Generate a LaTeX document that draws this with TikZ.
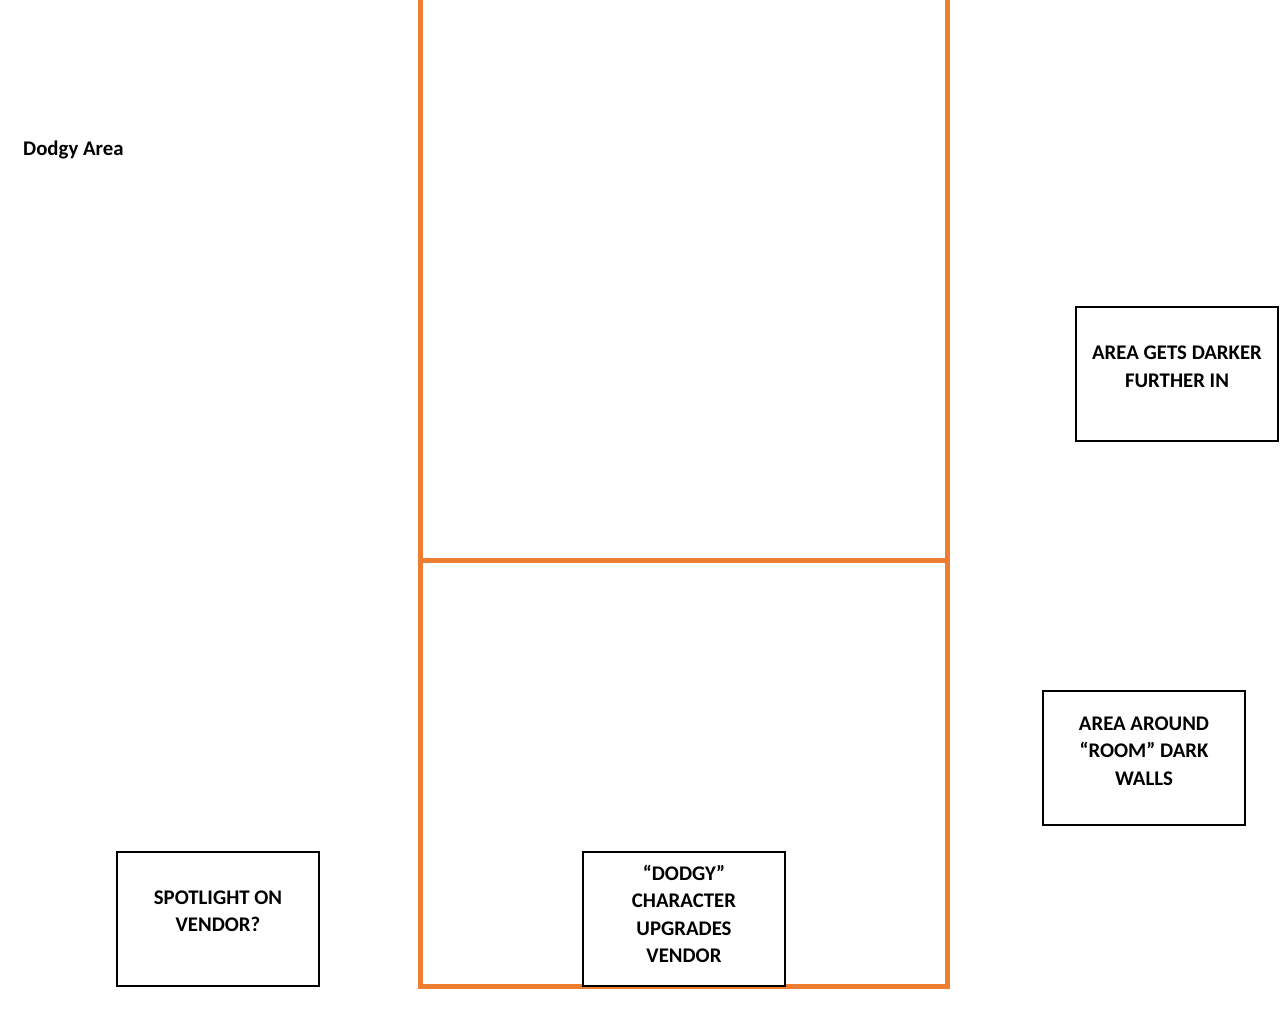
\documentclass[tikz,border=0pt]{standalone}
\usepackage{fontspec}
\setmainfont{Carlito}
\definecolor{wallorange}{HTML}{ED7D31}
\begin{document}
\begin{tikzpicture}[x=1pt,y=-1pt,
  note/.style={draw=black, line width=2pt, fill=white, minimum width=202pt,
    minimum height=134pt, inner sep=0pt},
  notetext/.style={font=\bfseries\fontsize{20.8}{27.5}\selectfont, align=center},
  wall/.style={draw=wallorange, line width=5pt}]
  \useasboundingbox (0,0) rectangle (1288,1036);
  \fill[white] (0,0) rectangle (1288,1036);

  % room walls (open at the top)
  \draw[wall] (420,-20) -- (420,986) -- (947,986) -- (947,-20);
  \draw[wall] (420,560) -- (947,560);

  % heading
  \node[anchor=west, font=\bfseries\fontsize{20.8}{24}\selectfont, inner sep=0pt] (title) at (23,150) {Dodgy Area};

  % notes
  \node[note, label={[notetext, yshift=7pt]center:AREA GETS DARKER\\FURTHER IN}] (darker) at (1177,374) {};
  \node[note, label={[notetext, yshift=7pt]center:AREA AROUND\\“ROOM” DARK\\WALLS}] (around) at (1144,758) {};
  \node[note, label={[notetext, yshift=8pt]center:SPOTLIGHT ON\\VENDOR?}] (spot) at (218,919) {};
  \node[note, label={[notetext, yshift=5pt]center:“DODGY”\\CHARACTER\\UPGRADES\\VENDOR}] (vendor) at (684,919) {};
\end{tikzpicture}
\end{document}
